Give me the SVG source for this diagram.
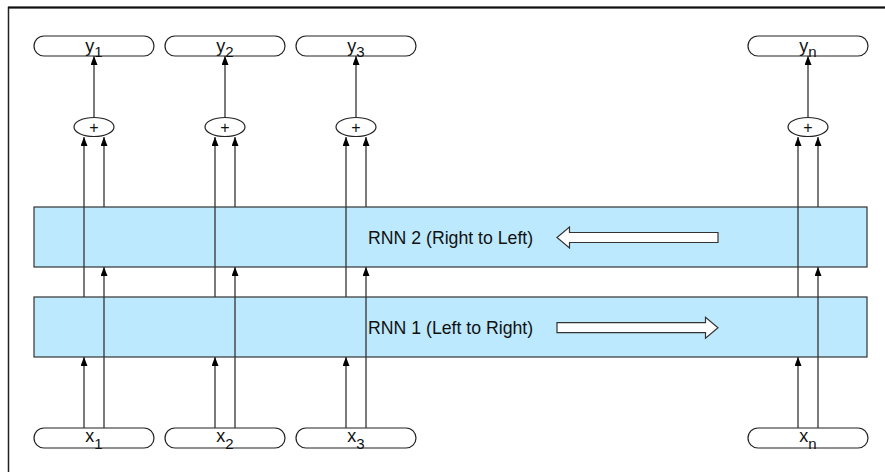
<svg xmlns="http://www.w3.org/2000/svg" width="885" height="472" viewBox="0 0 885 472">
<style>
.pill{fill:#fff;stroke:#222;stroke-width:1.2}
.sum{fill:#fff;stroke:#222;stroke-width:1.2}
.rnn{fill:#bce9fd;stroke:#333;stroke-width:1.2}
.lbl{font-family:"Liberation Sans",Arial,sans-serif;font-size:18px;fill:#111}
.sub{font-size:15px}
.plus{font-family:"Liberation Sans",Arial,sans-serif;font-size:16px;fill:#111}
.rt{font-family:"Liberation Sans",Arial,sans-serif;font-size:17.7px;fill:#111}
.c{fill:none;stroke:#333;stroke-width:1.3;marker-end:url(#ah)}
.blk{fill:#fff;stroke:#333;stroke-width:1.2}
</style>
<defs>
<marker id="ah" viewBox="0 0 10 10" refX="10" refY="5" markerWidth="9" markerHeight="7" markerUnits="userSpaceOnUse" orient="auto" preserveAspectRatio="none">
<path d="M0,0 L10,5 L0,10 z" fill="#000"/>
</marker>
</defs>
<rect x="8.5" y="7.5" width="900" height="500" fill="#fff" stroke="#222" stroke-width="1.5"/>
<line x1="8" y1="7.5" x2="885" y2="7.5" stroke="#111" stroke-width="2"/>

<g id="rnn2"><rect class="rnn" x="34" y="207" width="833" height="60"/>
<text class="rt" x="368" y="244">RNN 2 (Right to Left)</text>
<path class="blk" d="M557,237.5 L569.5,227 L569.5,232.5 L718,232.5 L718,242.5 L569.5,242.5 L569.5,248 Z"/></g>
<g id="rnn1"><rect class="rnn" x="34" y="297" width="833" height="60"/>
<text class="rt" x="368" y="334">RNN 1 (Left to Right)</text>
<path class="blk" d="M557,322.7 L705.5,322.7 L705.5,317.2 L718,327.7 L705.5,338.2 L705.5,332.7 L557,332.7 Z"/></g>

<g id="y1"><rect class="pill" x="34" y="36" width="120" height="20" rx="10"/><text class="lbl" x="94" y="52" text-anchor="middle">y<tspan class="sub" dy="5">1</tspan></text></g>
<g id="y2"><rect class="pill" x="165" y="36" width="120" height="20" rx="10"/><text class="lbl" x="225" y="52" text-anchor="middle">y<tspan class="sub" dy="5">2</tspan></text></g>
<g id="y3"><rect class="pill" x="296" y="36" width="120" height="20" rx="10"/><text class="lbl" x="356" y="52" text-anchor="middle">y<tspan class="sub" dy="5">3</tspan></text></g>
<g id="yn"><rect class="pill" x="748" y="36" width="120" height="20" rx="10"/><text class="lbl" x="808" y="52" text-anchor="middle">y<tspan class="sub" dy="5">n</tspan></text></g>

<g id="s1"><ellipse class="sum" cx="94" cy="127" rx="20" ry="9.5"/><text class="plus" x="94" y="132.5" text-anchor="middle">+</text></g>
<g id="s2"><ellipse class="sum" cx="225" cy="127" rx="20" ry="9.5"/><text class="plus" x="225" y="132.5" text-anchor="middle">+</text></g>
<g id="s3"><ellipse class="sum" cx="356" cy="127" rx="20" ry="9.5"/><text class="plus" x="356" y="132.5" text-anchor="middle">+</text></g>
<g id="sn"><ellipse class="sum" cx="808" cy="127" rx="20" ry="9.5"/><text class="plus" x="808" y="132.5" text-anchor="middle">+</text></g>

<g id="x1"><rect class="pill" x="34" y="428" width="120" height="20" rx="10"/><text class="lbl" x="94" y="442" text-anchor="middle">x<tspan class="sub" dy="7">1</tspan></text></g>
<g id="x2"><rect class="pill" x="165" y="428" width="120" height="20" rx="10"/><text class="lbl" x="225" y="442" text-anchor="middle">x<tspan class="sub" dy="7">2</tspan></text></g>
<g id="x3"><rect class="pill" x="296" y="428" width="120" height="20" rx="10"/><text class="lbl" x="356" y="442" text-anchor="middle">x<tspan class="sub" dy="7">3</tspan></text></g>
<g id="xn"><rect class="pill" x="748" y="428" width="120" height="20" rx="10"/><text class="lbl" x="808" y="442" text-anchor="middle">x<tspan class="sub" dy="7">n</tspan></text></g>

<g id="connectors">
<path class="c" d="M84,428 L84,357"/><path class="c" d="M104,428 L104,267"/><path class="c" d="M84,297 L84,137"/><path class="c" d="M104,207 L104,137"/><path class="c" d="M94,117.5 L94,56"/>
<path class="c" d="M215,428 L215,357"/><path class="c" d="M235,428 L235,267"/><path class="c" d="M215,297 L215,137"/><path class="c" d="M235,207 L235,137"/><path class="c" d="M225,117.5 L225,56"/>
<path class="c" d="M346,428 L346,357"/><path class="c" d="M366,428 L366,267"/><path class="c" d="M346,297 L346,137"/><path class="c" d="M366,207 L366,137"/><path class="c" d="M356,117.5 L356,56"/>
<path class="c" d="M798,428 L798,357"/><path class="c" d="M818,428 L818,267"/><path class="c" d="M798,297 L798,137"/><path class="c" d="M818,207 L818,137"/><path class="c" d="M808,117.5 L808,56"/>
</g>
</svg>
